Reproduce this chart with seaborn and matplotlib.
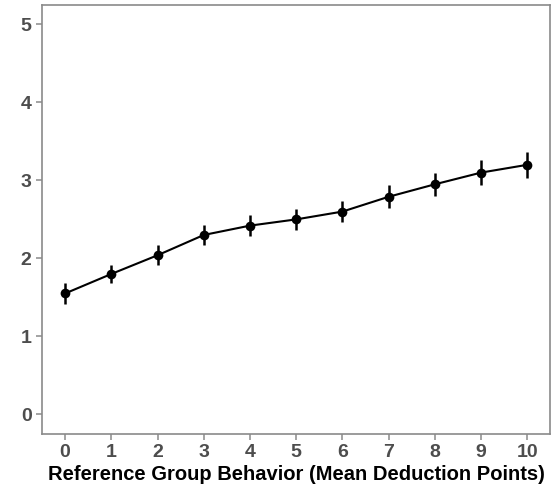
import numpy as np
import pandas as pd
import matplotlib
matplotlib.use("Agg")
import matplotlib.pyplot as plt
import seaborn as sns

# data
behavior = [0, 1, 2, 3, 4, 5, 6, 7, 8, 9, 10]
mean_score = [1.55, 1.80, 2.04, 2.30, 2.42, 2.50, 2.60, 2.79, 2.95, 3.10, 3.20]
err = [0.13, 0.12, 0.13, 0.13, 0.135, 0.13, 0.135, 0.145, 0.15, 0.16, 0.17]
y_ticks = [0, 1, 2, 3, 4, 5]

df = pd.DataFrame({"behavior": behavior, "score": mean_score, "err": err})

sns.set_theme(style="white")
plt.rcParams["font.family"] = ["Liberation Sans", "DejaVu Sans"]

fig = plt.figure(figsize=(5.56, 4.93), dpi=100)
ax = fig.add_axes([0.0755, 0.12, 0.9145, 0.87])

ax.errorbar(df["behavior"], df["score"], yerr=df["err"], fmt="none",
            ecolor="black", elinewidth=1.8, capsize=0, zorder=2)
sns.lineplot(data=df, x="behavior", y="score", ax=ax, color="black",
             linewidth=1.5, marker="o", markersize=7, markeredgewidth=0,
             zorder=3)

ax.set_xlim(-0.5, 10.5)
ax.set_ylim(-0.25, 5.25)
ax.set_xticks(behavior)
ax.set_yticks(y_ticks)
ax.set_xlabel("Reference Group Behavior (Mean Deduction Points)",
              fontsize=14.5, fontweight="bold", color="black", labelpad=3)
ax.set_ylabel("")

for s in ax.spines.values():
    s.set_visible(True)
    s.set_color("#8a8a8a")
    s.set_linewidth(1.2)

ax.tick_params(axis="both", which="major", direction="out", length=4.5,
               width=1.1, color="#8a8a8a", labelsize=14, labelcolor="#4d4d4d",
               pad=3, bottom=True, left=True)
for lab in ax.get_xticklabels() + ax.get_yticklabels():
    lab.set_fontweight("bold")

fig.savefig("out.png", dpi=100)
